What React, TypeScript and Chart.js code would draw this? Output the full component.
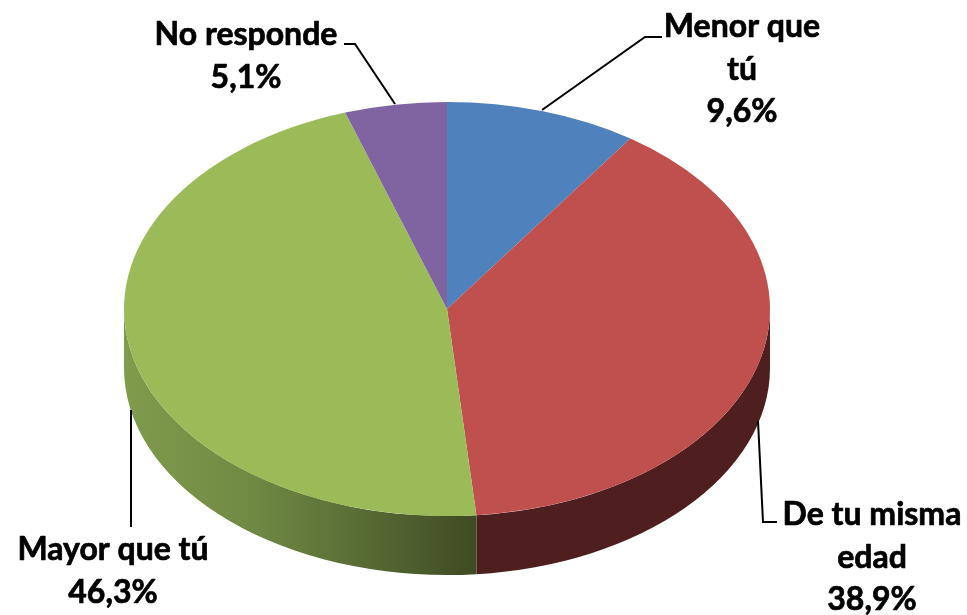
import React, { useEffect, useRef } from "react";
import { Chart, registerables } from "chart.js";

Chart.register(...registerables);

const categories = ["Menor que tú", "De tu misma edad", "Mayor que tú", "No responde"];
const values = [9.6, 38.9, 46.3, 5.1];
const topColors = ["#4f81bd", "#c0504d", "#9bbb59", "#8064a2"];
const labelLines = [["Menor que", "tú"], ["De tu misma", "edad"], ["Mayor que tú"], ["No responde"]];
const labelAnchors = [
  { x: 742, y: 37 },
  { x: 872, y: 525 },
  { x: 113, y: 560 },
  { x: 246, y: 45 },
];
const leaderLines = [
  [[662, 37], [645, 37], [542, 110]],
  [[758, 421], [763, 522], [777, 522]],
  [[131, 410], [131, 527]],
  [[344, 44], [355, 44], [395, 104]],
];

const RX = 323;
const RY = 207;
const DEPTH = 59;
const LINE_GAP = 42.5;
const FONT = "700 32px Lato, 'Open Sans', sans-serif";

const sidePaint = (ctx: CanvasRenderingContext2D, i: number) => {
  if (i === 2) {
    const g = ctx.createLinearGradient(125, 0, 476, 0);
    g.addColorStop(0, "#7f9b4c");
    g.addColorStop(0.35, "#718a43");
    g.addColorStop(0.65, "#5a6e36");
    g.addColorStop(1, "#3f4b23");
    return g;
  }
  if (i === 1) return "#4f1f1f";
  return i === 0 ? "#2f4d71" : "#4c3c61";
};

const tiltPlugin = {
  id: "tilt",
  beforeDatasetsDraw(chart: any) {
    const ctx: CanvasRenderingContext2D = chart.ctx;
    const arcs = chart.getDatasetMeta(0).data;
    const { x: cx, y: cy, outerRadius } = arcs[0];
    arcs.forEach((arc: any, i: number) => {
      // canvas angles normalised so the front rim (0..PI) can be tested
      const tau = Math.PI * 2;
      for (const shift of [-tau, 0, tau]) {
        const a = Math.max(arc.startAngle + shift, 0);
        const b = Math.min(arc.endAngle + shift, Math.PI);
        if (b <= a) continue;
        ctx.beginPath();
        ctx.ellipse(cx, cy, RX, RY, 0, a, b, false);
        ctx.ellipse(cx, cy + DEPTH, RX, RY, 0, b, a, true);
        ctx.closePath();
        ctx.fillStyle = sidePaint(ctx, i);
        ctx.fill();
      }
    });
    ctx.save();
    ctx.translate(cx, cy);
    ctx.scale(RX / outerRadius, RY / outerRadius);
    ctx.translate(-cx, -cy);
  },
  afterDatasetsDraw(chart: any) {
    const ctx: CanvasRenderingContext2D = chart.ctx;
    ctx.restore();
    ctx.save();
    ctx.strokeStyle = "#000000";
    ctx.lineWidth = 2;
    leaderLines.forEach((pts) => {
      ctx.beginPath();
      pts.forEach(([x, y], k) => (k ? ctx.lineTo(x, y) : ctx.moveTo(x, y)));
      ctx.stroke();
    });
    ctx.fillStyle = "#000000";
    ctx.font = FONT;
    ctx.textAlign = "center";
    ctx.textBaseline = "alphabetic";
    ctx.lineWidth = 0.7;
    ctx.lineJoin = "round";
    categories.forEach((_, i) => {
      const lines = [...labelLines[i], values[i].toFixed(1).replace(".", ",") + "%"];
      lines.forEach((t, k) => {
        const y = labelAnchors[i].y + k * LINE_GAP;
        ctx.fillText(t, labelAnchors[i].x, y);
        ctx.strokeText(t, labelAnchors[i].x, y);
      });
    });
    ctx.restore();
  },
};

export default function App() {
  const ref = useRef<HTMLCanvasElement>(null);
  useEffect(() => {
    document.body.style.margin = "0";
    const chart = new Chart(ref.current!, {
      type: "pie",
      data: {
        labels: categories,
        datasets: [{ data: values, backgroundColor: topColors, borderWidth: 0 }],
      },
      options: {
        responsive: false,
        animation: false,
        layout: { padding: { left: 0, right: 73, top: 3, bottom: 0 } },
        plugins: { legend: { display: false }, tooltip: { enabled: false } },
      },
      plugins: [tiltPlugin],
    });
    return () => chart.destroy();
  }, []);
  return <canvas ref={ref} width={967} height={615} style={{ display: "block" }} />;
}
